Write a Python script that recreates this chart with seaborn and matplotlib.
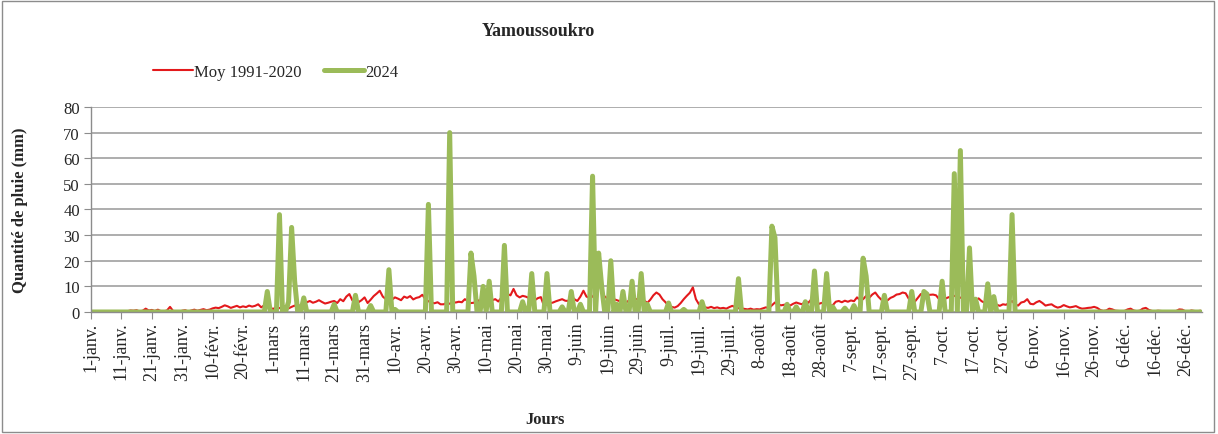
import numpy as np
import pandas as pd
import seaborn as sns
import matplotlib.pyplot as plt
from matplotlib.patches import Rectangle

# Moyenne journaliere 1991-2020 (mm), mois par mois (annee de 366 jours)
moy_janv = [0.1, 0.0, 0.1, 0.0, 0.2, 0.1, 0.0, 0.1, 0.3, 0.1,
            0.2, 0.0, 0.3, 0.6, 0.5, 0.7, 0.2, 0.5, 1.3, 0.6,
            0.8, 0.4, 0.9, 0.3, 0.2, 0.6, 2.0, 0.4, 0.1, 0.0, 0.5]
moy_fevr = [0.7, 0.2, 0.6, 0.9, 0.5, 0.8, 1.1, 0.7, 0.9,
            1.4, 1.7, 1.5, 2.0, 2.6, 2.2, 1.6, 2.0, 2.4, 1.8,
            2.2, 1.9, 2.5, 2.1, 2.4, 3.0, 1.8, 2.6, 3.4, 1.5]
moy_mars = [1.2, 2.0, 1.5, 1.8, 2.3, 1.4, 2.0, 2.5, 1.7, 2.8,
            3.2, 3.8, 4.3, 3.6, 4.0, 4.6, 3.9, 3.3, 3.6, 4.0,
            4.3, 3.5, 5.0, 4.2, 6.0, 7.0, 4.5, 5.1, 3.8, 4.6, 5.7]
moy_avr = [3.5, 4.8, 6.2, 7.2, 8.3, 6.0, 5.0, 5.9, 4.8,
           5.7, 5.2, 4.6, 6.0, 5.5, 6.2, 4.9, 5.5, 5.8, 6.7,
           5.0, 4.2, 3.7, 3.4, 3.8, 3.0, 3.0, 3.6, 3.2, 3.8, 3.7]
moy_mai = [4.0, 3.8, 5.0, 4.2, 3.5, 3.6, 4.8, 4.0, 4.5,
           3.9, 4.3, 4.6, 5.0, 4.1, 5.6, 6.0, 7.0, 6.5, 9.0,
           6.5, 5.7, 6.3, 6.0, 5.5, 5.2, 4.6, 5.4, 5.8, 2.4, 3.0, 3.4]
moy_juin = [3.7, 4.2, 4.6, 5.0, 4.4, 4.3, 6.3, 5.0,
            4.3, 6.0, 8.3, 6.0, 5.5, 6.0, 7.5, 12.0, 8.0, 6.0,
            5.2, 5.8, 5.0, 4.6, 4.2, 3.8, 3.7, 4.5, 4.2, 5.0, 5.0, 5.4]
moy_juil = [4.5, 3.5, 4.8, 6.5, 7.6, 6.8, 5.0, 3.8,
            2.4, 2.0, 1.7, 2.3, 3.5, 5.0, 6.3, 7.5, 9.6, 5.0,
            3.0, 2.4, 1.8, 1.6, 2.0, 1.5, 1.8, 1.4, 1.6, 1.3, 1.9, 2.4, 1.8]
moy_aout = [1.5, 1.4, 1.2, 1.0, 1.3, 0.9, 1.1,
            1.0, 1.4, 1.8, 1.5, 2.6, 3.7, 3.0, 2.6, 2.8, 3.0,
            2.5, 3.2, 3.7, 3.3, 3.0, 4.2, 3.6, 5.0, 3.5, 3.0, 3.4, 3.7, 3.2, 2.4]
moy_sept = [2.6, 4.0, 4.3, 3.8, 4.4, 4.0,
            4.5, 4.2, 5.7, 4.6, 5.0, 6.3, 5.5, 6.8, 7.6, 6.0,
            4.8, 3.7, 4.5, 5.5, 6.0, 6.8, 7.0, 7.6, 7.3, 5.2, 3.0, 4.0, 5.5, 7.0]
moy_oct = [6.2, 6.5, 6.7, 6.8, 6.5, 5.0,
           5.4, 5.2, 5.7, 6.0, 6.3, 6.0, 5.6, 5.3, 5.7, 5.0,
           5.0, 4.6, 5.3, 4.2, 3.6, 3.9, 3.7, 3.4, 2.8, 2.4, 3.0, 2.8, 3.5, 4.3, 3.0]
moy_nov = [2.5, 3.7, 4.0, 5.0, 3.2,
           3.0, 3.8, 4.3, 3.5, 2.5, 2.8, 3.0, 2.2, 1.7, 2.0,
           2.7, 2.2, 1.8, 2.0, 2.3, 1.7, 1.3, 1.4, 1.6, 1.7, 2.0, 1.6, 0.8, 0.4, 0.6]
moy_dec = [1.3, 1.0, 0.5, 0.4, 0.3,
           0.4, 1.0, 1.3, 0.6, 0.3, 0.5, 1.3, 1.6, 0.8, 0.4,
           0.3, 0.5, 0.4, 0.3, 0.2, 0.3, 0.2, 0.4, 1.0, 0.9,
           0.3, 0.2, 0.6, 0.4, 0.3, 0.5]

# 2024 : jours de pluie (les autres jours a 0 mm)
dates_2024 = ["2024-02-28", "2024-03-03", "2024-03-06", "2024-03-07", "2024-03-08",
              "2024-03-11", "2024-03-21", "2024-03-28", "2024-04-02", "2024-04-08",
              "2024-04-10", "2024-04-21", "2024-04-28", "2024-05-05", "2024-05-06",
              "2024-05-09", "2024-05-11", "2024-05-16", "2024-05-22", "2024-05-25",
              "2024-05-30", "2024-06-04", "2024-06-07", "2024-06-10", "2024-06-14",
              "2024-06-16", "2024-06-17", "2024-06-20", "2024-06-22", "2024-06-24",
              "2024-06-27", "2024-06-30", "2024-07-02", "2024-07-09", "2024-07-14",
              "2024-07-20", "2024-08-01", "2024-08-12", "2024-08-13", "2024-08-17",
              "2024-08-20", "2024-08-23", "2024-08-26", "2024-08-30", "2024-09-01",
              "2024-09-05", "2024-09-08", "2024-09-11", "2024-09-12", "2024-09-18",
              "2024-09-27", "2024-10-01", "2024-10-02", "2024-10-07", "2024-10-11",
              "2024-10-13", "2024-10-16", "2024-10-18", "2024-10-22", "2024-10-24",
              "2024-10-30"]
pluie_2024 = [8, 38, 4, 33, 12,
              5.5, 3, 6.5, 2.5, 16.5,
              1, 42, 70, 23, 14,
              10, 12, 26, 4, 15,
              15, 2, 8, 3, 53,
              23, 10, 20, 3, 8,
              12, 15, 3, 3.5, 1,
              4, 13, 33.5, 29, 3,
              2, 4, 16, 15, 2,
              1.5, 2.5, 21, 14, 6.5,
              8, 8, 7, 12, 54,
              63, 25, 5, 11, 6,
              38]

tick_labels = ["1-janv.", "11-janv.", "21-janv.", "31-janv.", "10-févr.", "20-févr.",
               "1-mars", "11-mars", "21-mars", "31-mars", "10-avr.", "20-avr.", "30-avr.",
               "10-mai", "20-mai", "30-mai", "9-juin", "19-juin", "29-juin",
               "9-juil.", "19-juil.", "29-juil.", "8-août", "18-août", "28-août",
               "7-sept.", "17-sept.", "27-sept.", "7-oct.", "17-oct.", "27-oct.",
               "6-nov.", "16-nov.", "26-nov.", "6-déc.", "16-déc.", "26-déc."]

jours = pd.date_range("2024-01-01", "2024-12-31", freq="D")
moy = np.concatenate([moy_janv, moy_fevr, moy_mars, moy_avr, moy_mai, moy_juin,
                      moy_juil, moy_aout, moy_sept, moy_oct, moy_nov, moy_dec])
serie_2024 = pd.Series(pluie_2024, index=pd.to_datetime(dates_2024)).reindex(jours, fill_value=0)

df = pd.DataFrame({"jour": np.arange(len(jours)), "moy": moy, "a2024": serie_2024.values})

sns.set_style("white")
plt.rcParams["font.family"] = ["Liberation Serif", "DejaVu Serif"]

fig = plt.figure(figsize=(12.18, 4.35), dpi=100)
ax = fig.add_axes([0.0747, 0.2805, 0.9122, 0.4712])

sns.lineplot(data=df, x="jour", y="moy", color="#E3191C", linewidth=1.5,
             label="Moy 1991-2020", ax=ax)
sns.lineplot(data=df, x="jour", y="a2024", color="#9BBB59", linewidth=3.6,
             label="2024", ax=ax, solid_joinstyle="round")

ax.set_xlim(0, 365.5)
ax.set_ylim(0, 80)
ax.set_yticks(range(0, 81, 10))
ax.set_xticks(np.arange(0, 361, 10))
ax.set_xticklabels(tick_labels, rotation=90, fontsize=13)
ax.tick_params(axis="y", labelsize=12, length=5, color="#8c8c8c", direction="out", pad=3, left=True)
ax.tick_params(axis="x", length=5, color="#8c8c8c", direction="out", pad=2, bottom=True)
ax.yaxis.grid(True, color="#a0a0a0", linewidth=1.2)
ax.set_axisbelow(True)
for s in ["top", "right"]:
    ax.spines[s].set_visible(False)
for s in ["left", "bottom"]:
    ax.spines[s].set_color("#8c8c8c")
    ax.spines[s].set_linewidth(1.0)
ax.set_xlabel("")
ax.set_ylabel("")

fig.text(538 / 1218, 1 - 32 / 435, "Yamoussoukro", ha="center", va="center",
         fontsize=13, fontweight="bold")
fig.text(545 / 1218, 1 - 420 / 435, "Jours", ha="center", va="center",
         fontsize=12, fontweight="bold")
fig.text(20 / 1218, 1 - 210 / 435, "Quantité de pluie (mm)", ha="center", va="center",
         rotation=90, fontsize=12, fontweight="bold")

handles, labels = ax.get_legend_handles_labels()
ax.legend(handles, labels, loc="center left", bbox_to_anchor=(146 / 1218, 1 - 73 / 435),
          bbox_transform=fig.transFigure, ncol=2, frameon=False, fontsize=12,
          handlelength=2.4, handletextpad=0.1, columnspacing=1.3, borderaxespad=0)

fig.patches.append(Rectangle((0.002, 0.004), 0.995, 0.992, transform=fig.transFigure,
                             fill=False, edgecolor="#8c8c8c", linewidth=1))

fig.savefig("out.png", dpi=100)
